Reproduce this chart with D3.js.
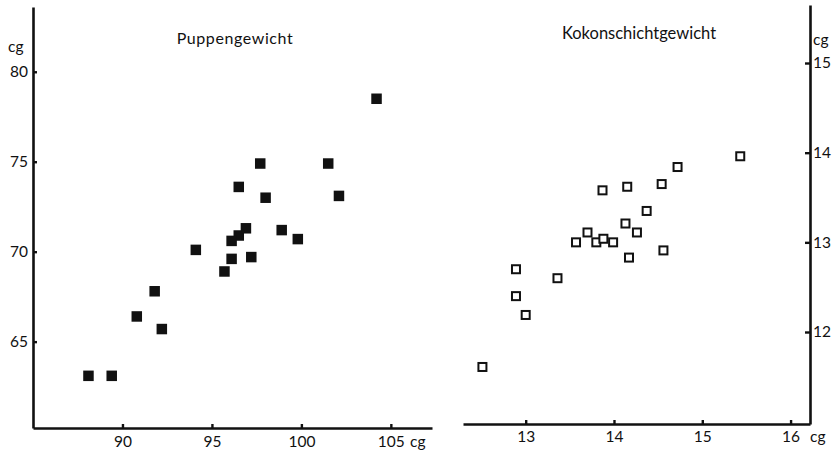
<!DOCTYPE html>
<html>
<head>
<meta charset="utf-8">
<script src="https://cdn.jsdelivr.net/npm/d3@7"></script>
<style>
  html, body { margin: 0; padding: 0; background: #fff; }
  svg { display: block; }
  text { font-family: Lato, "Open Sans", sans-serif; fill: #111; }
</style>
</head>
<body>
<svg id="chart" width="837" height="452"></svg>
<script>
// ---- Data ----
// Left panel: Puppengewicht (x: cg, y: cg)
const puppeX = [104.2, 97.7, 101.5, 96.5, 98.0, 102.1, 96.9, 96.5, 96.1, 98.9, 99.8, 94.1, 96.1, 97.2, 95.7, 91.8, 90.8, 92.2, 88.1, 89.4];
const puppeY = [78.5, 74.9, 74.9, 73.6, 73.0, 73.1, 71.3, 70.9, 70.6, 71.2, 70.7, 70.1, 69.6, 69.7, 68.9, 67.8, 66.4, 65.7, 63.1, 63.1];

// Right panel: Kokonschichtgewicht
const kokonX = [15.43, 14.72, 13.87, 14.15, 14.54, 14.37, 14.13, 14.26, 13.70, 13.57, 13.80, 13.88, 13.99, 14.17, 14.56, 12.89, 13.36, 12.89, 13.00, 12.51];
const kokonY = [13.96, 13.84, 13.58, 13.62, 13.65, 13.35, 13.21, 13.11, 13.11, 13.00, 13.00, 13.04, 13.00, 12.83, 12.91, 12.70, 12.60, 12.40, 12.19, 11.61];

const leftXTicks = [90, 95, 100, 105];
const leftYTicks = [65, 70, 75, 80];
const rightXTicks = [13, 14, 15, 16];
const rightYTicks = [12, 13, 14, 15];

const titleLeft = "Puppengewicht";
const titleRight = "Kokonschichtgewicht";
const unit = "cg";

// ---- Drawing ----
const svg = d3.select("#chart");
const FS = 15.5;
const fmt = d3.format("d");

// Left scales
const lx = d3.scaleLinear().domain([85, 107.3]).range([33, 432]);
const ly = d3.scaleLinear().domain([60.2, 83.6]).range([428, 7]);
// Right scales
const rx = d3.scaleLinear().domain([12.29, 16.22]).range([463, 810]);
const ry = d3.scaleLinear().domain([10.974, 15.647]).range([424, 5]);

function styleAxis(g) {
  g.select(".domain").attr("stroke", "#111").attr("stroke-width", 2.6);
  g.selectAll(".tick line").attr("stroke", "#111").attr("stroke-width", 2.4);
  g.selectAll(".tick text").attr("font-size", FS).attr("fill", "#111")
    .attr("font-family", "Lato, 'Open Sans', sans-serif");
}

// Left Y axis (ticks inside, labels outside)
svg.append("g").attr("transform", `translate(${lx.range()[0]},0)`)
  .call(d3.axisLeft(ly).tickValues(leftYTicks).tickFormat(fmt).tickSizeInner(-4).tickSizeOuter(0).tickPadding(5))
  .call(styleAxis);
// Left X axis
svg.append("g").attr("transform", `translate(0,${ly.range()[0]})`)
  .call(d3.axisBottom(lx).tickValues(leftXTicks).tickFormat(fmt).tickSizeInner(-4).tickSizeOuter(0).tickPadding(8))
  .call(styleAxis);

// Right Y axis (on the right side, ticks pointing inward)
svg.append("g").attr("transform", `translate(${rx.range()[1]},0)`)
  .call(d3.axisRight(ry).tickValues(rightYTicks).tickFormat(fmt).tickSizeInner(-5).tickSizeOuter(0).tickPadding(3))
  .call(styleAxis);
// Right X axis
svg.append("g").attr("transform", `translate(0,${ry.range()[0]})`)
  .call(d3.axisBottom(rx).tickValues(rightXTicks).tickFormat(fmt).tickSizeInner(-4).tickSizeOuter(0).tickPadding(7))
  .call(styleAxis);

// Unit labels
svg.append("text").attr("x", 8).attr("y", 52).attr("font-size", FS).text(unit);
svg.append("text").attr("x", 410).attr("y", 447).attr("font-size", FS).text(unit);
svg.append("text").attr("x", 813).attr("y", 45).attr("font-size", FS).text(unit);
svg.append("text").attr("x", 810).attr("y", 442).attr("font-size", FS).text(unit);

// Titles
svg.append("text").attr("x", 235).attr("y", 44).attr("text-anchor", "middle")
  .attr("font-size", 16).attr("letter-spacing", 0.6).text(titleLeft);
svg.append("text").attr("x", 639).attr("y", 39).attr("text-anchor", "middle")
  .attr("font-size", 16.5).text(titleRight);

// Left points: filled squares
const S1 = 10.5;
svg.append("g").selectAll("rect").data(d3.range(puppeX.length)).join("rect")
  .attr("x", i => lx(puppeX[i]) - S1 / 2)
  .attr("y", i => ly(puppeY[i]) - S1 / 2)
  .attr("width", S1).attr("height", S1)
  .attr("fill", "#111");

// Right points: open squares
const S2 = 8;
svg.append("g").selectAll("rect").data(d3.range(kokonX.length)).join("rect")
  .attr("x", i => rx(kokonX[i]) - S2 / 2)
  .attr("y", i => ry(kokonY[i]) - S2 / 2)
  .attr("width", S2).attr("height", S2)
  .attr("fill", "#fff").attr("stroke", "#111").attr("stroke-width", 2);
</script>
</body>
</html>
